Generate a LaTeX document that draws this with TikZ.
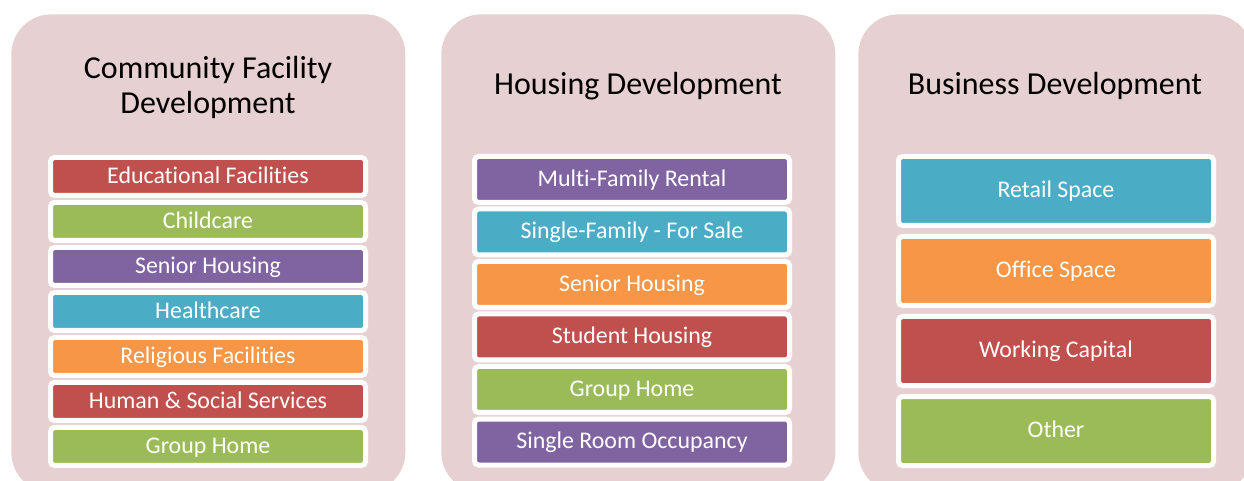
\documentclass[tikz,border=0pt]{standalone}
\usepackage{fontspec}
\setmainfont{Carlito}[Ligatures=NoCommon]
\usetikzlibrary{positioning}
\definecolor{panelpink}{HTML}{E6D0D1}
\definecolor{barred}{HTML}{C0504D}
\definecolor{bargreen}{HTML}{9BBB59}
\definecolor{barpurple}{HTML}{8064A2}
\definecolor{barblue}{HTML}{4BACC6}
\definecolor{barorange}{HTML}{F79646}
\newcommand\Titlefont{\fontsize{18.2}{20}\selectfont}

\begin{document}
\begin{tikzpicture}[
panel/.style={
  fill=panelpink, rounded corners=0.8cm,
  minimum width=7.88cm, minimum height=9.56cm,
  anchor=north west, inner sep=0pt
},
heading/.style={font=\Titlefont, align=center, anchor=base},
bar/.style={
  draw=white, line width=0.1cm, rounded corners=0.08cm,
  minimum width=6.3cm, inner sep=0pt, outer sep=0.05cm,
  text height=1.9ex, text depth=0.25ex,
  text=white, font=\fontsize{13.6}{15}\selectfont
},
cfbar/.style={bar, minimum height=0.76cm},
hdbar/.style={bar, minimum height=0.92cm},
bdbar/.style={bar, minimum height=1.38cm}]
\clip (0,0) rectangle (24.88,-9.62);
\useasboundingbox (0,0) rectangle (24.88,-9.62);

% panels
\node (cf) [panel] at (0.22,-0.28) {};
\node (hd) [panel] at (8.82,-0.28) {};
\node (bd) [panel] at (17.16,-0.28) {};

% headings (base = last line)
\node (cftitle) [heading] at (4.16,-2.27) {Community Facility\\Development};
\node (hdtitle) [heading] at (12.76,-1.9) {Housing Development};
\node (bdtitle) [heading] at (21.10,-1.9) {Business Development};

% community facility development
\node (edu) [cfbar, fill=barred] at (4.16,-3.53) {Educational Facilities};
\node (child) [cfbar, fill=bargreen, below=0.04cm of edu] {Childcare};
\node (senior) [cfbar, fill=barpurple, below=0.04cm of child] {Senior Housing};
\node (health) [cfbar, fill=barblue, below=0.04cm of senior] {Healthcare};
\node (relig) [cfbar, fill=barorange, below=0.04cm of health] {Religious Facilities};
\node (social) [cfbar, fill=barred, below=0.04cm of relig] {Human \& Social Services};
\node (group) [cfbar, fill=bargreen, below=0.04cm of social] {Group Home};

% housing development
\node (multi) [hdbar, fill=barpurple] at (12.64,-3.59) {Multi-Family Rental};
\node (single) [hdbar, fill=barblue, below=0.03cm of multi] {Single-Family - For Sale};
\node (hsenior) [hdbar, fill=barorange, below=0.03cm of single] {Senior Housing};
\node (student) [hdbar, fill=barred, below=0.03cm of hsenior] {Student Housing};
\node (hgroup) [hdbar, fill=bargreen, below=0.03cm of student] {Group Home};
\node (sro) [hdbar, fill=barpurple, below=0.03cm of hgroup] {Single Room Occupancy};

% business development
\node (retail) [bdbar, fill=barblue] at (21.12,-3.82) {Retail Space};
\node (office) [bdbar, fill=barorange, below=0.12cm of retail] {Office Space};
\node (capital) [bdbar, fill=barred, below=0.12cm of office] {Working Capital};
\node (other) [bdbar, fill=bargreen, below=0.12cm of capital] {Other};
\end{tikzpicture}
\end{document}
